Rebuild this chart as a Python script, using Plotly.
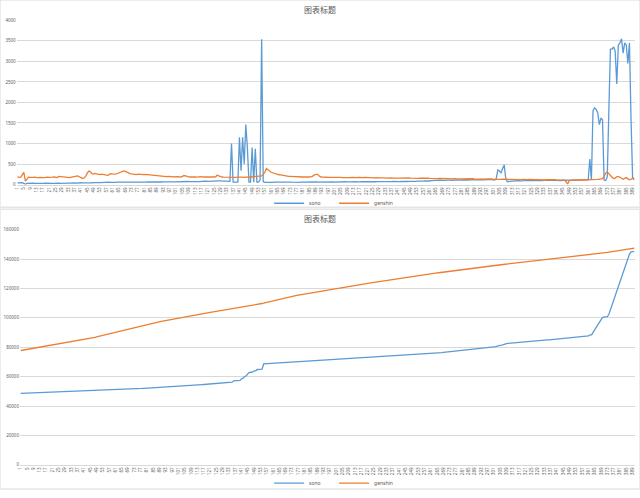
import plotly.graph_objects as go

# x categories and tick labels
days = list(range(1, 391))
tick_days = list(range(1, 391, 4))

# top chart: daily values
sono_daily = [
    40, 45, 42, 48, 30, 5, 30, 35, 32, 30,
    33, 30, 28, 32, 35, 30, 28, 33, 36, 30,
    32, 35, 30, 28, 34, 38, 33, 30, 35, 32,
    36, 40, 38, 35, 42, 45, 40, 38, 44, 48,
    45, 42, 40, 46, 50, 52, 48, 45, 50, 55,
    52, 48, 50, 54, 56, 52, 50, 55, 58, 54,
    50, 52, 56, 60, 58, 55, 52, 56, 60, 62,
    58, 55, 58, 62, 60, 56, 58, 62, 65, 60,
    58, 62, 66, 64, 60, 58, 62, 66, 68, 64,
    60, 64, 68, 70, 66, 62, 65, 70, 72, 68,
    65, 68, 72, 75, 70, 66, 70, 74, 76, 72,
    70, 74, 78, 82, 78, 75, 80, 85, 88, 84,
    80, 84, 88, 90, 86, 82, 86, 90, 92, 88,
    85, 88, 92, 90, 80, 1000, 60, 58, 62, 60,
    1150, 340, 1150, 500, 1460, 900, 60, 60, 900, 60,
    870, 60, 60, 110, 3540, 70, 55, 52, 58, 60,
    56, 54, 58, 60, 55, 52, 56, 58, 60, 55,
    58, 60, 62, 58, 55, 60, 62, 58, 56, 60,
    62, 64, 60, 58, 62, 65, 60, 58, 62, 64,
    60, 62, 65, 68, 64, 60, 62, 66, 68, 64,
    62, 65, 68, 64, 60, 62, 66, 70, 66, 62,
    64, 68, 70, 66, 62, 65, 68, 72, 68, 64,
    66, 70, 72, 68, 64, 66, 70, 74, 70, 66,
    68, 72, 74, 70, 66, 68, 72, 76, 72, 68,
    70, 74, 78, 74, 70, 72, 76, 80, 76, 72,
    75, 80, 84, 80, 76, 80, 85, 90, 86, 82,
    88, 95, 100, 96, 92, 98, 104, 108, 102, 98,
    105, 110, 115, 108, 104, 110, 116, 120, 114, 110,
    115, 120, 125, 118, 112, 118, 124, 128, 122, 116,
    120, 126, 130, 124, 118, 122, 128, 132, 126, 120,
    115, 110, 150, 360, 330, 290, 390, 480, 140, 70,
    80, 85, 90, 88, 84, 90, 95, 92, 88, 92,
    96, 100, 95, 92, 98, 102, 98, 94, 100, 104,
    100, 96, 102, 106, 100, 98, 104, 108, 102, 98,
    104, 108, 104, 100, 106, 110, 105, 100, 104, 108,
    110, 106, 112, 115, 110, 108, 114, 118, 112, 110,
    115, 620, 110, 1800, 1870, 1830, 1750, 1460, 1620, 1580,
    110, 100, 180, 1800, 3300, 3300, 3350, 3250, 2450, 3400,
    3450, 3550, 3200, 3450, 3400, 2950, 3450, 1600, 150, 120,
]

genshin_daily = [
    190, 175, 180, 230, 300, 85, 150, 180, 175, 170,
    175, 180, 170, 165, 175, 180, 172, 168, 178, 182,
    176, 170, 180, 185, 178, 172, 200, 195, 180, 175,
    178, 182, 176, 170, 180, 185, 190, 205, 210, 190,
    175, 150, 160, 200, 280, 330, 310, 265, 255, 270,
    260, 250, 245, 255, 250, 240, 235, 225, 250, 265,
    260, 250, 255, 270, 290, 310, 325, 335, 320, 300,
    285, 270, 260, 250, 240, 245, 255, 260, 250, 245,
    255, 250, 245, 240, 250, 245, 235, 230, 225, 220,
    215, 210, 205, 200, 195, 200, 205, 195, 190, 195,
    200, 195, 190, 185, 200, 220, 210, 195, 190, 185,
    190, 195, 185, 180, 190, 200, 195, 185, 180, 185,
    190, 185, 180, 175, 185, 190, 230, 210, 190, 185,
    180, 178, 175, 172, 170, 175, 180, 178, 175, 180,
    185, 182, 180, 178, 185, 190, 188, 185, 190, 195,
    192, 190, 195, 200, 210, 250, 300, 390, 350, 330,
    300, 285, 270, 260, 250, 240, 235, 225, 215, 210,
    205, 200, 198, 195, 190, 192, 188, 185, 190, 188,
    185, 190, 185, 180, 185, 190, 200, 230, 240, 255,
    220, 190, 185, 180, 178, 182, 180, 175, 178, 180,
    176, 172, 178, 180, 175, 170, 174, 178, 172, 168,
    172, 175, 170, 168, 172, 176, 170, 165, 170, 174,
    170, 166, 170, 172, 168, 164, 168, 172, 166, 162,
    166, 170, 165, 160, 164, 168, 162, 158, 162, 166,
    160, 156, 160, 164, 158, 155, 160, 162, 156, 152,
    156, 160, 154, 150, 155, 158, 152, 148, 152, 156,
    150, 146, 150, 154, 148, 145, 150, 152, 146, 142,
    146, 150, 145, 140, 144, 148, 142, 138, 142, 146,
    140, 136, 140, 144, 138, 135, 140, 142, 136, 132,
    136, 140, 134, 130, 134, 138, 132, 128, 132, 136,
    130, 126, 130, 132, 128, 125, 130, 128, 124, 120,
    124, 128, 122, 118, 122, 126, 120, 116, 120, 124,
    120, 116, 122, 126, 120, 115, 118, 122, 118, 114,
    118, 122, 116, 112, 118, 122, 116, 112, 116, 120,
    116, 112, 118, 120, 115, 110, 70, 10, 100, 110,
    120, 116, 112, 118, 122, 116, 112, 118, 120, 115,
    118, 122, 120, 125, 128, 122, 126, 130, 135, 145,
    200, 280, 310, 260, 220, 180, 150, 160, 190, 200,
    180, 150, 130, 150, 170, 140, 115, 130, 160, 150,
]

# bottom chart: running totals
sono_total = [
    48600, 48640, 48680, 48720, 48750, 48760, 48790, 48820, 48850, 48880,
    48910, 48940, 48970, 49000, 49040, 49070, 49100, 49130, 49160, 49190,
    49220, 49260, 49290, 49320, 49350, 49390, 49420, 49450, 49490, 49520,
    49560, 49600, 49640, 49670, 49710, 49760, 49800, 49840, 49880, 49930,
    49970, 50020, 50060, 50100, 50150, 50200, 50250, 50300, 50350, 50400,
    50450, 50500, 50550, 50600, 50660, 50710, 50760, 50820, 50870, 50930,
    50980, 51030, 51090, 51150, 51210, 51260, 51310, 51370, 51430, 51490,
    51550, 51600, 51660, 51720, 51780, 51840, 51900, 51960, 52030, 52090,
    52150, 52210, 52280, 52340, 52400, 52460, 52520, 52590, 52660, 52720,
    52780, 52840, 52910, 52980, 53050, 53110, 53180, 53250, 53320, 53390,
    53450, 53520, 53590, 53670, 53740, 53800, 53870, 53950, 54020, 54090,
    54160, 54240, 54310, 54400, 54470, 54550, 54630, 54710, 54800, 54880,
    54960, 55040, 55130, 55220, 55310, 55390, 55480, 55570, 55660, 55750,
    55830, 55920, 56010, 56100, 56180, 57180, 57240, 57300, 57360, 57420,
    58570, 58910, 60060, 60560, 62020, 62920, 62980, 63040, 63940, 64000,
    64870, 64930, 64990, 65100, 68640, 68710, 68770, 68820, 68880, 68940,
    69000, 69050, 69110, 69170, 69220, 69270, 69330, 69390, 69450, 69500,
    69560, 69620, 69680, 69740, 69790, 69850, 69910, 69970, 70030, 70090,
    70150, 70220, 70280, 70330, 70400, 70460, 70520, 70580, 70640, 70700,
    70760, 70820, 70890, 70960, 71020, 71080, 71140, 71210, 71280, 71340,
    71400, 71470, 71530, 71600, 71660, 71720, 71790, 71860, 71920, 71980,
    72050, 72110, 72180, 72250, 72310, 72380, 72450, 72520, 72590, 72650,
    72720, 72790, 72860, 72930, 72990, 73060, 73130, 73200, 73270, 73340,
    73410, 73480, 73550, 73620, 73690, 73760, 73830, 73910, 73980, 74050,
    74120, 74190, 74270, 74350, 74420, 74490, 74570, 74650, 74720, 74800,
    74870, 74950, 75040, 75120, 75190, 75270, 75360, 75450, 75540, 75620,
    75710, 75800, 75900, 76000, 76090, 76190, 76290, 76400, 76500, 76600,
    76700, 76810, 76930, 77040, 77140, 77250, 77370, 77490, 77600, 77710,
    77830, 77950, 78070, 78190, 78300, 78420, 78540, 78670, 78790, 78910,
    79030, 79150, 79280, 79410, 79530, 79650, 79780, 79910, 80040, 80160,
    80270, 80380, 80530, 80890, 81220, 81510, 81900, 82380, 82520, 82590,
    82670, 82760, 82850, 82940, 83020, 83110, 83210, 83300, 83390, 83480,
    83580, 83680, 83770, 83870, 83970, 84070, 84170, 84260, 84360, 84460,
    84560, 84660, 84760, 84870, 84970, 85070, 85170, 85280, 85380, 85480,
    85580, 85690, 85790, 85890, 86000, 86110, 86220, 86320, 86420, 86530,
    86640, 86750, 86860, 86980, 87090, 87200, 87310, 87430, 87540, 87650,
    87770, 88390, 88500, 90300, 92170, 94000, 95750, 97210, 98830, 100410,
    100520, 100620, 100800, 102600, 105800, 108950, 112150, 115250, 117600, 120850,
    124150, 127550, 130600, 133950, 137250, 140100, 143450, 145000, 145150, 145270,
]

genshin_total = [
    77800, 77980, 78160, 78390, 78690, 78770, 78920, 79100, 79280, 79450,
    79620, 79800, 79970, 80130, 80310, 80490, 80660, 80830, 81010, 81190,
    81370, 81540, 81720, 81910, 82090, 82260, 82460, 82650, 82830, 83010,
    83190, 83370, 83550, 83720, 83900, 84080, 84270, 84480, 84690, 84880,
    85050, 85200, 85360, 85560, 85840, 86170, 86480, 86750, 87000, 87270,
    87530, 87780, 88030, 88280, 88530, 88770, 89010, 89230, 89480, 89750,
    90010, 90260, 90510, 90780, 91070, 91380, 91710, 92040, 92360, 92660,
    92950, 93220, 93480, 93730, 93970, 94210, 94470, 94730, 94980, 95220,
    95480, 95730, 95970, 96210, 96460, 96710, 96940, 97170, 97400, 97620,
    97830, 98040, 98250, 98450, 98640, 98840, 99050, 99240, 99430, 99630,
    99830, 100020, 100210, 100400, 100600, 100820, 101030, 101220, 101410, 101600,
    101790, 101980, 102170, 102350, 102540, 102740, 102930, 103120, 103300, 103480,
    103670, 103860, 104040, 104210, 104400, 104590, 104820, 105030, 105220, 105400,
    105580, 105760, 105940, 106110, 106280, 106450, 106630, 106810, 106990, 107170,
    107350, 107540, 107720, 107890, 108080, 108270, 108460, 108640, 108830, 109030,
    109220, 109410, 109600, 109800, 110010, 110260, 110560, 110950, 111300, 111630,
    111930, 112220, 112490, 112750, 113000, 113240, 113470, 113700, 113910, 114120,
    114330, 114530, 114720, 114920, 115110, 115300, 115490, 115680, 115870, 116050,
    116240, 116430, 116610, 116790, 116980, 117170, 117370, 117600, 117840, 118090,
    118310, 118500, 118690, 118870, 119040, 119230, 119410, 119580, 119760, 119940,
    120120, 120290, 120470, 120650, 120820, 120990, 121170, 121340, 121520, 121690,
    121860, 122030, 122200, 122370, 122540, 122720, 122890, 123050, 123220, 123400,
    123570, 123730, 123900, 124070, 124240, 124400, 124570, 124740, 124910, 125070,
    125240, 125410, 125570, 125730, 125900, 126060, 126230, 126390, 126550, 126710,
    126870, 127030, 127190, 127350, 127510, 127670, 127830, 127990, 128140, 128300,
    128450, 128610, 128760, 128910, 129070, 129230, 129380, 129530, 129680, 129840,
    129990, 130130, 130280, 130440, 130590, 130730, 130880, 131030, 131180, 131320,
    131470, 131620, 131760, 131900, 132050, 132190, 132340, 132480, 132620, 132760,
    132900, 133040, 133180, 133320, 133460, 133590, 133730, 133870, 134010, 134140,
    134280, 134420, 134550, 134680, 134820, 134960, 135090, 135220, 135350, 135490,
    135620, 135740, 135870, 136000, 136130, 136260, 136390, 136520, 136640, 136760,
    136880, 137010, 137130, 137250, 137370, 137500, 137620, 137740, 137860, 137980,
    138100, 138220, 138340, 138460, 138580, 138700, 138820, 138940, 139060, 139170,
    139290, 139410, 139530, 139640, 139760, 139880, 139990, 140110, 140230, 140350,
    140470, 140580, 140700, 140820, 140930, 141040, 141110, 141120, 141220, 141330,
    141450, 141570, 141680, 141800, 141920, 142040, 142150, 142270, 142390, 142500,
    142620, 142740, 142860, 142990, 143120, 143240, 143370, 143500, 143630, 143780,
    143980, 144260, 144570, 144830, 145050, 145230, 145380, 145540, 145730, 145930,
    146110, 146260, 146390, 146540, 146710, 146850, 146970, 147100, 147260, 147410,
]

BLUE = "#5B9BD5"
ORANGE = "#ED7D31"
GRID = "#D9D9D9"
TEXT = "#595959"
W, H = 640, 498

fig = go.Figure()

# 上图：每日数值
fig.add_trace(go.Scatter(x=days, y=sono_daily, name="sono", mode="lines",
                         line=dict(color=BLUE, width=1.3), xaxis="x", yaxis="y", legend="legend"))
fig.add_trace(go.Scatter(x=days, y=genshin_daily, name="genshin", mode="lines",
                         line=dict(color=ORANGE, width=1.3), xaxis="x", yaxis="y", legend="legend"))
# 下图：累计
fig.add_trace(go.Scatter(x=days, y=sono_total, name="sono", mode="lines",
                         line=dict(color=BLUE, width=1.3), xaxis="x2", yaxis="y2", legend="legend2"))
fig.add_trace(go.Scatter(x=days, y=genshin_total, name="genshin", mode="lines",
                         line=dict(color=ORANGE, width=1.3), xaxis="x2", yaxis="y2", legend="legend2"))

xcommon = dict(range=[0.5, 390.5], tickmode="array", tickvals=tick_days,
               ticktext=[str(d) for d in tick_days], tickangle=-90,
               tickfont=dict(size=4.5, color=TEXT), showgrid=False,
               showline=True, linecolor=GRID, linewidth=0.8, ticks="",
               zeroline=False, automargin=False, fixedrange=True)
ycommon = dict(showgrid=True, gridcolor=GRID, gridwidth=0.8, zeroline=False,
               showline=False, ticks="", tickfont=dict(size=4.5, color=TEXT),
               tickformat="d", automargin=False)

legend_common = dict(orientation="h", xanchor="center", x=0.522, yanchor="middle",
                     font=dict(size=5, color=TEXT, family="Noto Sans"),
                     bgcolor="rgba(0,0,0,0)", itemwidth=30, tracegroupgap=0,
                     entrywidth=20)

fig.update_layout(
    width=W, height=H,
    margin=dict(l=0, r=0, t=0, b=0),
    paper_bgcolor="white", plot_bgcolor="white",
    showlegend=True,
    xaxis=dict(domain=[16.7 / W, 635 / W], anchor="y", **xcommon),
    yaxis=dict(domain=[1 - 188 / H, 1 - 20.7 / H], anchor="x",
               range=[0, 4000], dtick=500, **ycommon),
    xaxis2=dict(domain=[20 / W, 635 / W], anchor="y2", **xcommon),
    yaxis2=dict(domain=[1 - 473.3 / H, 1 - 234 / H], anchor="x2",
                range=[0, 160000], dtick=20000, **ycommon),
    legend=dict(y=1 - 207 / H, **legend_common),
    legend2=dict(y=1 - 492 / H, **legend_common),
    annotations=[
        dict(text="图表标题", x=0.5, y=1 - 10 / H, xref="paper", yref="paper",
             yanchor="middle", showarrow=False,
             font=dict(size=8, color=TEXT, family="Noto Sans CJK SC")),
        dict(text="图表标题", x=0.5, y=1 - 223 / H, xref="paper", yref="paper",
             yanchor="middle", showarrow=False,
             font=dict(size=8, color=TEXT, family="Noto Sans CJK SC")),
    ],
    shapes=[
        dict(type="rect", xref="paper", yref="paper", x0=0, x1=1, y0=1 - 211 / H, y1=1,
             line=dict(color=GRID, width=1)),
        dict(type="rect", xref="paper", yref="paper", x0=0, x1=1, y0=0, y1=1 - 213 / H,
             line=dict(color=GRID, width=1)),
    ],
    font=dict(family="Noto Sans", color=TEXT),
)

# 去掉页面默认边距，让图表贴满窗口
fig.write_html("out.html", config={"displayModeBar": False},
               post_script="document.body.style.margin='0';")
